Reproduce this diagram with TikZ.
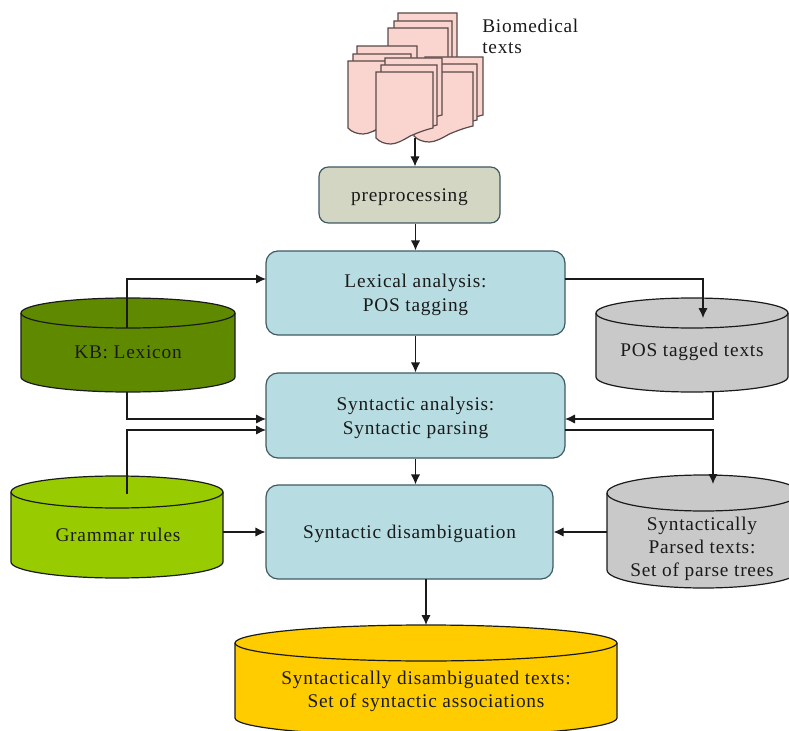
\documentclass[tikz,border=0pt]{standalone}
\usepackage{fontspec}
\setmainfont[LetterSpace=4]{Liberation Serif}
\usetikzlibrary{arrows.meta}
\definecolor{boxblue}{HTML}{B7DDE3}
\definecolor{boxedge}{HTML}{3F5A63}
\definecolor{prepfill}{HTML}{D3D6C2}
\definecolor{kbgreen}{HTML}{5F8A00}
\definecolor{grgreen}{HTML}{99CC00}
\definecolor{cylgray}{HTML}{C9C9C9}
\definecolor{gold}{HTML}{FFCC00}
\definecolor{docpink}{HTML}{FAD4CE}
\definecolor{docedge}{HTML}{5A4A48}
\definecolor{ink}{HTML}{1A1A1A}
\tikzset{
  x=0.75pt,y=-0.75pt,
  procbox/.style={draw=boxedge,line width=0.9pt,fill=boxblue,rounded corners=9pt,inner sep=0pt,align=center,text=ink,font=\fontsize{14.5}{18}\selectfont},
  prepbox/.style={procbox,fill=prepfill,rounded corners=7pt},
  cyllabel/.style={inner sep=0pt,align=center,text=ink,font=\fontsize{14.5}{17.5}\selectfont},
  cylside/.style={draw=ink,line width=0.9pt},
  conn/.style={draw=ink,line width=0.9pt,-{Latex[length=7.5pt,width=7pt]}},
  plainlbl/.style={inner sep=0pt,align=left,text=ink,font=\fontsize{14.5}{15.5}\selectfont},
  docpage/.style={draw=docedge,line width=0.9pt,fill=docpink}
}
\newcommand{\lowtxt}[1]{\raisebox{-1.5pt}[\height][\depth]{\begin{tabular}{@{}c@{}}#1\end{tabular}}}
% #1 name, #2 left, #3 right, #4 top, #5 ellipse half height, #6 side bottom, #7 fill
\newcommand{\mycyl}[7]{%
  \pgfmathsetmacro{\mycx}{(#2+#3)/2}%
  \pgfmathsetmacro{\myrx}{(#3-#2)/2}%
  \pgfmathsetmacro{\mycy}{#4+#5}%
  \path[cylside,fill=#7] (#2,\mycy) -- (#2,#6) arc[x radius=\myrx,y radius=#5,start angle=180,end angle=0] -- (#3,\mycy) arc[x radius=\myrx,y radius=#5,start angle=0,end angle=-180] -- cycle;
  \path[cylside] (#2,\mycy) arc[x radius=\myrx,y radius=#5,start angle=180,end angle=0];
  \pgfmathsetmacro{\mywd}{(#3-#2)*0.75}%
  \pgfmathsetmacro{\myht}{(#6+#5-#4)*0.75}%
  \node[minimum width=\mywd pt,minimum height=\myht pt,inner sep=0pt] (#1) at (\mycx,{(#4+#6+#5)/2}) {};
}
% #1 left, #2 top, #3 width, #4 height to wave
\newcommand{\mydoc}[4]{%
  \path[docpage] (#1,#2) -- ({#1+#3},#2) -- ({#1+#3},{#2+#4-6})
    .. controls ({#1+#3*0.85},{#2+#4-4}) and ({#1+#3*0.72},{#2+#4-1}) .. ({#1+#3*0.6},{#2+#4+2})
    .. controls ({#1+#3*0.48},{#2+#4+6}) and ({#1+#3*0.36},{#2+#4+10}) .. ({#1+#3*0.26},{#2+#4+10})
    .. controls ({#1+#3*0.16},{#2+#4+10}) and ({#1+#3*0.06},{#2+#4+8}) .. (#1,{#2+#4+4}) -- cycle;
}
\begin{document}
\begin{tikzpicture}
\useasboundingbox[clip] (0,0) rectangle (789,731);
% document stacks
\mydoc{398}{13}{59}{60}
\mydoc{394}{21}{58}{60}
\mydoc{388}{28}{60}{60}
\mydoc{357}{46}{60}{70}
\mydoc{353}{54}{58}{68}
\mydoc{348}{61}{58}{63}
\mydoc{425}{57}{58}{64}
\mydoc{419}{64}{58}{62}
\mydoc{414}{72}{59}{60}
\mydoc{385}{58}{57}{63}
\mydoc{381}{65}{56}{66}
\mydoc{376}{72}{57}{62}
\coordinate (docs) at (415,138);
\node[plainlbl,anchor=north west] (biolbl) at (482,19) {Biomedical\\texts};
% process boxes
\node[prepbox,minimum width=135.75pt,minimum height=42pt] (prep) at (409.5,195) {\lowtxt{preprocessing}};
\node[procbox,minimum width=224.25pt,minimum height=63pt] (lex) at (415.5,293) {\lowtxt{Lexical analysis:\\POS tagging}};
\node[procbox,minimum width=224.25pt,minimum height=63.75pt] (syn) at (415.5,415.5) {\lowtxt{Syntactic analysis:\\Syntactic parsing}};
\node[procbox,minimum width=215.25pt,minimum height=70.5pt] (dis) at (409.5,532) {\lowtxt{Syntactic disambiguation}};
% cylinders
\mycyl{kb}{21}{235}{298}{15}{377}{kbgreen}
\node[cyllabel] (kbl) at (128,352) {KB: Lexicon};
\mycyl{gr}{11}{223}{476}{16}{562}{grgreen}
\node[cyllabel] (grl) at (118,535) {Grammar rules};
\mycyl{pos}{596}{788}{298}{15}{377}{cylgray}
\node[cyllabel] (posl) at (692,352) {POS tagged texts};
\mycyl{par}{607}{800}{475}{18}{570}{cylgray}
\node[cyllabel] (parl) at (702,549) {Syntactically\\Parsed  texts:\\Set of parse trees};
\mycyl{out}{235}{617}{625}{18}{718}{gold}
\node[cyllabel] (outl) at (426,691.5) {Syntactically disambiguated texts:\\Set of syntactic associations};
% connector ends
\coordinate (kbup) at (127,328);
\coordinate (kbdn) at (127,392);
\coordinate (grup) at (127,494);
\coordinate (lexL) at (266,279);
\coordinate (lexR) at (565,279);
\coordinate (synLa) at (266,419);
\coordinate (synLb) at (266,430);
\coordinate (synRa) at (565,419);
\coordinate (synRb) at (565,430);
\coordinate (posin) at (703,318);
\coordinate (posdn) at (713,392);
\coordinate (parin) at (713,484);
\coordinate (grR) at (223,532);
\coordinate (parL) at (607,532);
\coordinate (disout) at (426,579);
\coordinate (outin) at (426,625);
% connectors
\draw[conn] (docs) -- (prep.north -| docs);
\draw[conn] (prep.south -| lex.north) -- (lex.north);
\draw[conn] (lex.south) -- (syn.north);
\draw[conn] (syn.south) -- (dis.north -| syn.south);
\draw[conn] (kbup) |- (lexL);
\draw[conn] (kbdn) |- (synLa);
\draw[conn] (grup) |- (synLb);
\draw[conn] (lexR) -| (posin);
\draw[conn] (posdn) |- (synRa);
\draw[conn] (synRb) -| (parin);
\draw[conn] (grR) -- (dis.west);
\draw[conn] (parL) -- (dis.east);
\draw[conn] (disout) -- (outin);
\end{tikzpicture}
\end{document}
